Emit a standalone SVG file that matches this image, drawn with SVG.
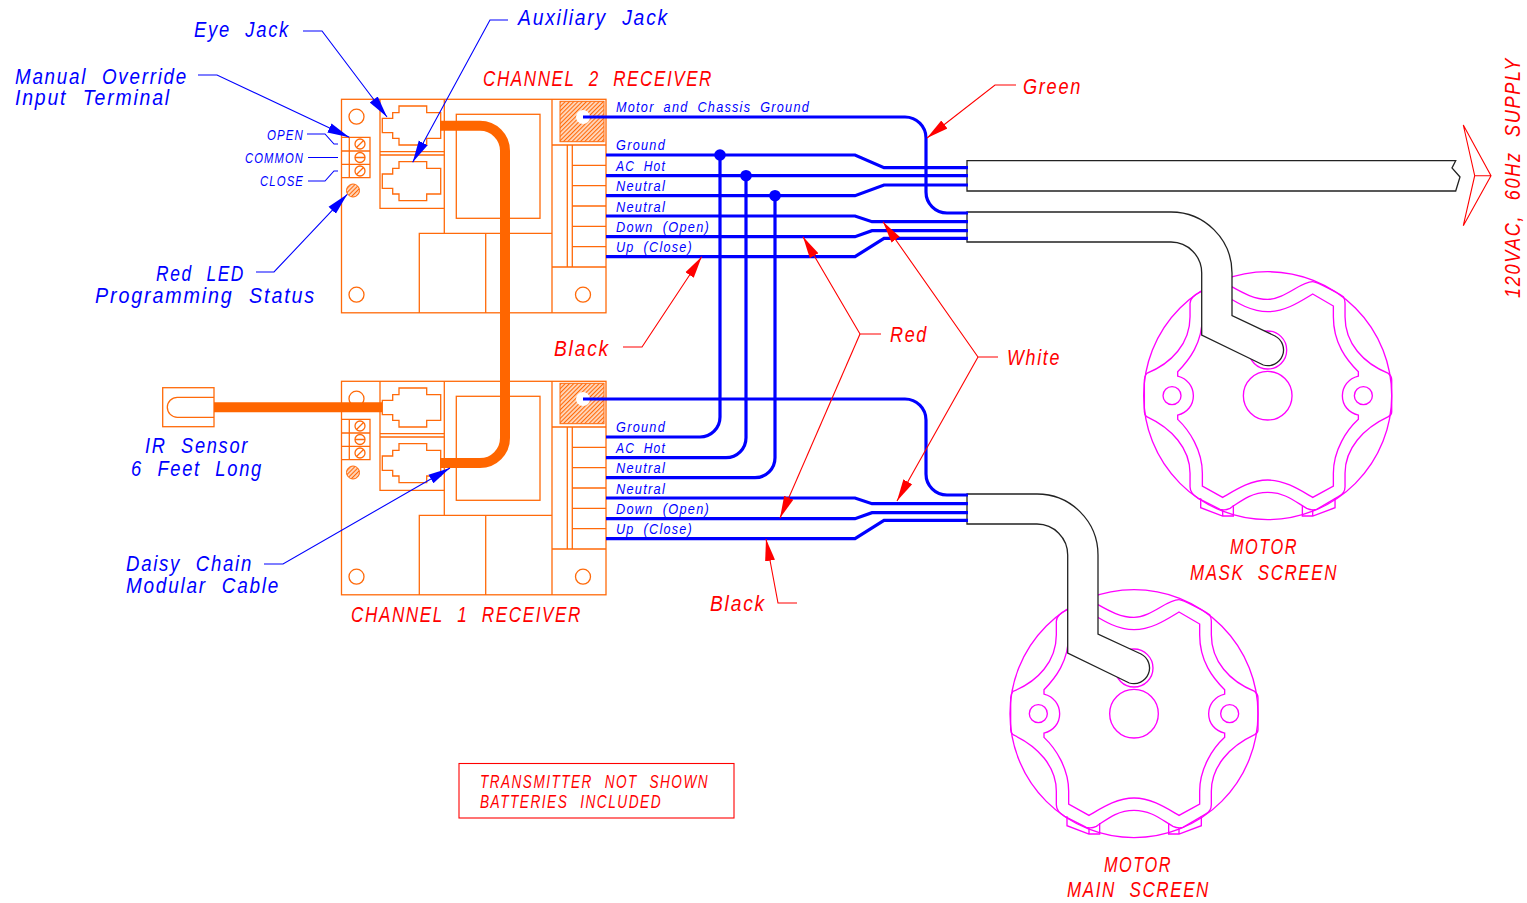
<svg xmlns="http://www.w3.org/2000/svg" width="1527" height="903" viewBox="0 0 1527 903">
<style>
text{font-family:"Liberation Sans",Arial,sans-serif;font-style:italic;word-spacing:9px;letter-spacing:2px;stroke-width:0}
.b{fill:#0000ff}.r{fill:#ff0000}
.l{font-size:21.5px}.s{font-size:15px;letter-spacing:1.5px;word-spacing:5px}.m{font-size:18.6px}
.o{fill:none;stroke:#ff6a0a;stroke-width:1.3}
.cable{fill:none;stroke:#ff6600;stroke-width:10}
.w{fill:none;stroke:#0000ff;stroke-width:3.2}
.lb{fill:none;stroke:#0000ff;stroke-width:1.1}
.lr{fill:none;stroke:#ff0000;stroke-width:1.1}
.k{fill:#fff;stroke:#222;stroke-width:1.3}
.mg{fill:none;stroke:#ff00ff;stroke-width:4}
</style>
<defs>
<marker id="ab" markerUnits="userSpaceOnUse" markerWidth="24" markerHeight="12" refX="22" refY="6" orient="auto"><path d="M0,1 L22,6 L0,11 Z" fill="#0000ff"/></marker>
<marker id="ar" markerUnits="userSpaceOnUse" markerWidth="24" markerHeight="12" refX="22" refY="6" orient="auto"><path d="M0,1 L22,6 L0,11 Z" fill="#ff0000"/></marker>
<pattern id="h" width="3" height="3" patternUnits="userSpaceOnUse" patternTransform="rotate(-45)"><rect width="3" height="3" fill="#ffd9bf"/><rect width="3" height="1.1" fill="#ff6a0a"/></pattern>
<path id="jack" class="o" d="M399,106H426.7V112.7H440.7V138.3H426.7V145H399V138.3H392.7V132.7H382.3V118.3H392.7V112.7H399Z"/>
<g id="recv">
<rect class="o" x="341.5" y="99.3" width="264.5" height="213.5"/>
<circle class="o" cx="356.5" cy="116.7" r="7.5"/><circle class="o" cx="356.5" cy="294.7" r="7.5"/><circle class="o" cx="583" cy="294.7" r="7.5"/>
<rect x="560" y="101.3" width="44" height="40.4" fill="url(#h)" stroke="#ff6a0a" stroke-width="1"/>
<circle cx="583" cy="117" r="7" fill="#fff"/>
<path class="o" d="M552,99V313M552,145H606M567.3,145V267M572.3,145V267M552,267H606M572,165.3H606M572,185.7H606M572,206H606M572,226.3H606M572,246.7H606"/>
<path class="o" d="M419.3,313V233.3H552M485.7,233.3V313M444.3,99V233.3"/>
<path class="o" d="M380,99V208.3H444.3M380,151.7H444.3M380,155H444.3"/>
<rect class="o" x="456.3" y="114.3" width="83.7" height="104"/>
<use href="#jack"/><use href="#jack" y="55.7"/>
<path class="o" d="M341.5,137.3H370V177.7H341.5M349.3,137.3V177.7M341.5,151H370M341.5,164.3H370"/>
<circle class="o" cx="360" cy="144" r="5"/><circle class="o" cx="360" cy="157.5" r="5"/><circle class="o" cx="360" cy="171" r="5"/>
<path class="o" d="M356.5,147.5L363.5,140.5M355,157.5H365M356.5,174.5L363.5,167.5"/>
<circle cx="353" cy="190.5" r="6.5" fill="url(#h)" stroke="#ff6a0a" stroke-width="1"/>
</g>
<g id="motor" transform="scale(.33333) translate(-413,-407)">
<circle class="mg" cx="413" cy="407" r="372"/>
<circle class="mg" cx="413" cy="407" r="73"/>
<circle class="mg" cx="126" cy="407" r="27"/><circle class="mg" cx="700" cy="407" r="27"/>
<circle class="mg" cx="413" cy="270" r="57"/>
<path class="mg" d="M548,102L610,138V170C610,250 650,300 685,335V348C655,355 637,380 637,407C637,435 655,458 685,465V478C650,510 610,570 610,640V678L548,712C510,690 465,660 413,660C361,660 316,690 278,712L217,678V640C217,570 177,510 143,478V465C172,458 190,435 190,407C190,380 172,355 143,348V335C177,300 217,250 217,170V138L278,102C316,125 361,155 413,155C465,155 510,125 548,102Z"/>
<path class="mg" d="M305,80C340,100 375,118 413,118C465,118 510,65 548,65C560,65 625,100 640,110Q645,118 645,130V170C645,250 700,310 775,340Q785,348 785,360V455Q785,465 775,470C700,505 645,565 645,640V680Q645,700 625,710L560,748Q545,752 530,745C495,725 465,697 413,697C361,697 330,725 300,745Q285,752 270,748L205,715Q180,700 180,680V640C180,565 125,505 50,470Q43,465 43,455V360Q43,348 50,340C125,310 180,250 180,170V130Q180,110 213,95"/>
<path class="mg" d="M212,715V743L278,768H310V735M278,750V768M517,735V768H548L615,743V715M548,750V768"/>
</g>
</defs>

<g id="channel-2-receiver"><use href="#recv"/></g>
<g id="channel-1-receiver"><use href="#recv" y="282"/></g>

<g id="ir-sensor">
<rect class="o" x="162.7" y="387.7" width="51.3" height="39"/>
<path class="o" d="M214,397.3H177.3A10,10 0 0 0 177.3,417.3H214"/>
</g>

<g id="motor-mask-screen"><use href="#motor" transform="translate(1267.7,395.7)"/></g>
<g id="motor-main-screen"><use href="#motor" transform="translate(1134,713.7)"/></g>

<g id="connectors">
<path class="cable" d="M214,407.3H382"/>
<path class="cable" d="M440,125.8H480A25,25 0 0 1 505,150.8V438A25,25 0 0 1 480,463H440"/>
<path class="k" d="M967,160.7H1455.7L1452,168L1460,177L1455.7,191H967Z"/>
<path class="k" d="M967,212H1171A61,61 0 0 1 1232,273V315.7L1275,336A15.7,15.7 0 0 1 1263.3,365L1201.7,335V273A31,31 0 0 0 1171,242H967Z"/>
<path class="k" d="M967,494H1037A61,61 0 0 1 1098,555V634L1141,654A15.7,15.7 0 0 1 1129.3,683L1067.7,653V555A31,31 0 0 0 1037,524H967Z"/>

<path class="w" d="M583,117H905A21,21 0 0 1 926,138V192A21,21 0 0 0 947,213H968"/>
<path class="w" d="M606,155H855L884,167.7H968"/>
<path class="w" d="M606,175.7H968"/>
<path class="w" d="M606,195.7H855L884,185H968"/>
<path class="w" d="M606,216H855L872,221.7H968"/>
<path class="w" d="M606,236.7H855L872,230.7H968"/>
<path class="w" d="M606,256.7H855L884,238.3H968"/>
<path class="w" d="M583,399H905A21,21 0 0 1 926,420V474A21,21 0 0 0 947,495H968"/>
<path class="w" d="M606,498H855L872,503.7H968"/>
<path class="w" d="M606,518.7H855L872,512.7H968"/>
<path class="w" d="M606,538.7H855L884,520.3H968"/>
<path class="w" d="M720,155V417A20,20 0 0 1 700,437H606"/>
<path class="w" d="M746,175.7V437.7A20,20 0 0 1 726,457.7H606"/>
<path class="w" d="M775,195.7V457.7A20,20 0 0 1 755,477.7H606"/>
<circle cx="720" cy="155" r="5.8" fill="#0000ff"/><circle cx="746" cy="175.7" r="5.8" fill="#0000ff"/><circle cx="775" cy="195.7" r="5.8" fill="#0000ff"/>

<path class="lb" d="M303,31H322L387,117" marker-end="url(#ab)"/>
<path class="lb" d="M508,20H490L412.7,162.3" marker-end="url(#ab)"/>
<path class="lb" d="M198,75H217L349.3,137.3" marker-end="url(#ab)"/>
<path class="lb" d="M307,134H325L334,144H338M308,157.5H338M308,181H325L334,171H338"/>
<path class="lb" d="M256,272H274L347.3,194.3" marker-end="url(#ab)"/>
<path class="lb" d="M264,564H283L450,468" marker-end="url(#ab)"/>

<path class="lr" d="M1016,85H995L927,138" marker-end="url(#ar)"/>
<path class="lr" d="M623,347H642L701.7,256.7" marker-end="url(#ar)"/>
<path class="lr" d="M881,334H860L803,236.7" marker-end="url(#ar)"/>
<path class="lr" d="M860,334L780,518" marker-end="url(#ar)"/>
<path class="lr" d="M998,357H978L883,221.7" marker-end="url(#ar)"/>
<path class="lr" d="M978,357L897,501" marker-end="url(#ar)"/>
<path class="lr" d="M797,603H778L766,539" marker-end="url(#ar)"/>
<path class="lr" d="M1463.3,125L1491,175.7L1463.3,225.7L1474.7,175.7ZM1474.7,175.7H1491"/>
</g>

<g id="labels">
<text class="b l" lengthAdjust="spacingAndGlyphs" x="194" y="37" textLength="96">Eye Jack</text>
<text class="b l" lengthAdjust="spacingAndGlyphs" x="518" y="25" textLength="151">Auxiliary Jack</text>
<text class="b l" lengthAdjust="spacingAndGlyphs" x="15" y="84" textLength="173">Manual Override</text>
<text class="b l" lengthAdjust="spacingAndGlyphs" x="15" y="105" textLength="156">Input Terminal</text>
<text class="b s" lengthAdjust="spacingAndGlyphs" x="267" y="140" textLength="37">OPEN</text>
<text class="b s" lengthAdjust="spacingAndGlyphs" x="245" y="163" textLength="59">COMMON</text>
<text class="b s" lengthAdjust="spacingAndGlyphs" x="260" y="186" textLength="44">CLOSE</text>
<text class="b l" lengthAdjust="spacingAndGlyphs" x="156" y="281" textLength="89">Red LED</text>
<text class="b l" lengthAdjust="spacingAndGlyphs" x="95" y="303" textLength="221">Programming Status</text>
<text class="b l" lengthAdjust="spacingAndGlyphs" x="145" y="453" textLength="104">IR Sensor</text>
<text class="b l" lengthAdjust="spacingAndGlyphs" x="131" y="476" textLength="132">6 Feet Long</text>
<text class="b l" lengthAdjust="spacingAndGlyphs" x="126" y="571" textLength="127">Daisy Chain</text>
<text class="b l" lengthAdjust="spacingAndGlyphs" x="126" y="593" textLength="154">Modular Cable</text>
<text class="r l" lengthAdjust="spacingAndGlyphs" x="483" y="86" textLength="230">CHANNEL 2 RECEIVER</text>
<text class="r l" lengthAdjust="spacingAndGlyphs" x="351" y="622" textLength="231">CHANNEL 1 RECEIVER</text>
<text class="b s" lengthAdjust="spacingAndGlyphs" x="616" y="112" textLength="194">Motor and Chassis Ground</text>
<text class="b s" lengthAdjust="spacingAndGlyphs" x="616" y="150" textLength="50">Ground</text>
<text class="b s" lengthAdjust="spacingAndGlyphs" x="616" y="171" textLength="50">AC Hot</text>
<text class="b s" lengthAdjust="spacingAndGlyphs" x="616" y="191" textLength="50">Neutral</text>
<text class="b s" lengthAdjust="spacingAndGlyphs" x="616" y="212" textLength="50">Neutral</text>
<text class="b s" lengthAdjust="spacingAndGlyphs" x="616" y="232" textLength="94">Down (Open)</text>
<text class="b s" lengthAdjust="spacingAndGlyphs" x="616" y="252" textLength="77">Up (Close)</text>
<text class="b s" lengthAdjust="spacingAndGlyphs" x="616" y="432" textLength="50">Ground</text>
<text class="b s" lengthAdjust="spacingAndGlyphs" x="616" y="453" textLength="50">AC Hot</text>
<text class="b s" lengthAdjust="spacingAndGlyphs" x="616" y="473" textLength="50">Neutral</text>
<text class="b s" lengthAdjust="spacingAndGlyphs" x="616" y="494" textLength="50">Neutral</text>
<text class="b s" lengthAdjust="spacingAndGlyphs" x="616" y="514" textLength="94">Down (Open)</text>
<text class="b s" lengthAdjust="spacingAndGlyphs" x="616" y="534" textLength="77">Up (Close)</text>
<text class="r l" lengthAdjust="spacingAndGlyphs" x="1023" y="94" textLength="59">Green</text>
<text class="r l" lengthAdjust="spacingAndGlyphs" x="554" y="356" textLength="56">Black</text>
<text class="r l" lengthAdjust="spacingAndGlyphs" x="890" y="342" textLength="38">Red</text>
<text class="r l" lengthAdjust="spacingAndGlyphs" x="1007" y="365" textLength="54">White</text>
<text class="r l" lengthAdjust="spacingAndGlyphs" x="710" y="611" textLength="56">Black</text>
<text class="r l" lengthAdjust="spacingAndGlyphs" x="1230" y="554" textLength="68">MOTOR</text>
<text class="r l" lengthAdjust="spacingAndGlyphs" x="1190" y="580" textLength="148">MASK SCREEN</text>
<text class="r l" lengthAdjust="spacingAndGlyphs" x="1104" y="872" textLength="68">MOTOR</text>
<text class="r l" lengthAdjust="spacingAndGlyphs" x="1067" y="897" textLength="143">MAIN SCREEN</text>
<text class="r l" lengthAdjust="spacingAndGlyphs" transform="translate(1520,298) rotate(-90)" textLength="241">120VAC, 60Hz SUPPLY</text>
</g>

<g id="note">
<rect x="459" y="763.5" width="275" height="54.5" fill="none" stroke="#ff0000" stroke-width="1.1"/>
<text class="r m" lengthAdjust="spacingAndGlyphs" x="480" y="788" textLength="229">TRANSMITTER NOT SHOWN</text>
<text class="r m" lengthAdjust="spacingAndGlyphs" x="480" y="808" textLength="182">BATTERIES INCLUDED</text>
</g>
</svg>
